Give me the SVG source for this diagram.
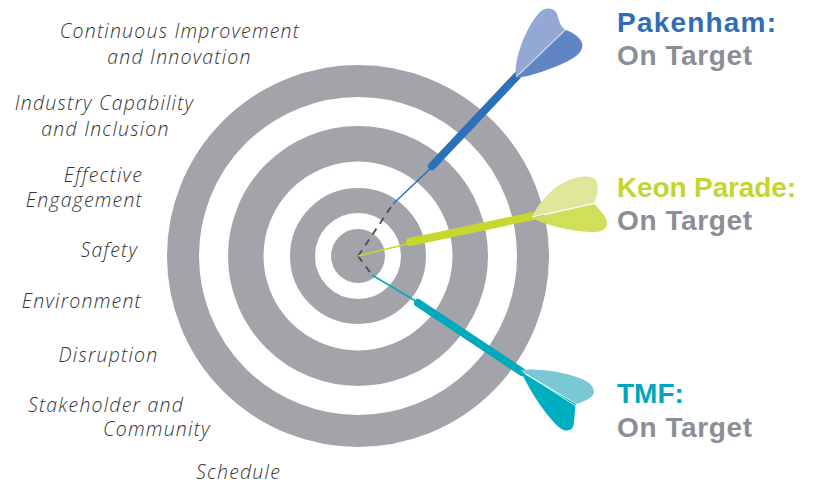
<svg xmlns="http://www.w3.org/2000/svg" width="823" height="485" viewBox="0 0 823 485">
<style>
.ring{fill:none;stroke:#a2a4aa}
.lbl{font-family:"Open Sans",Roboto,"Liberation Sans",sans-serif;font-weight:300;font-style:italic;font-size:19.5px;letter-spacing:1.2px;fill:#333335}
.ttl{font-family:"Liberation Sans",Arial,sans-serif;font-weight:bold;font-size:28px}
.ok{fill:#8b8e95}
.dash{stroke:#4a4d55;stroke-width:1.8;stroke-dasharray:7 6;fill:none}
.vane{stroke:#ffffff;stroke-width:1;opacity:0.8}
</style>
<rect width="823" height="485" fill="#ffffff"/>
<g id="target">
<circle class="ring" cx="358" cy="256" r="175" stroke-width="32"/>
<circle class="ring" cx="358" cy="256" r="112.25" stroke-width="35.5"/>
<circle class="ring" cx="358" cy="256" r="55.5" stroke-width="25"/>
<circle cx="358" cy="256" r="27" fill="#a2a4aa"/>
</g>
<g id="labels">
<text class="lbl" x="180" y="38" text-anchor="middle">Continuous Improvement</text>
<text class="lbl" x="179.5" y="64" text-anchor="middle">and Innovation</text>
<text class="lbl" x="104.5" y="110" text-anchor="middle">Industry Capability</text>
<text class="lbl" x="105.5" y="136" text-anchor="middle">and Inclusion</text>
<text class="lbl" x="143" y="182" text-anchor="end">Effective</text>
<text class="lbl" x="143" y="207" text-anchor="end">Engagement</text>
<text class="lbl" x="138" y="257" text-anchor="end">Safety</text>
<text class="lbl" x="142" y="308" text-anchor="end">Environment</text>
<text class="lbl" x="108.5" y="362" text-anchor="middle">Disruption</text>
<text class="lbl" x="28" y="412">Stakeholder and</text>
<text class="lbl" x="103" y="436">Community</text>
<text class="lbl" x="238.5" y="479" text-anchor="middle">Schedule</text>
</g>
<g id="connectors">
<path class="dash" d="M358,256 L393,204"/>
<path class="dash" d="M358,256 L372,275"/>
<path d="M393,204 L432,167" stroke="#2b70b9" stroke-width="1.5"/>
<path d="M358,256 L411,243" stroke="#c5d82e" stroke-width="1.5"/>
<path d="M372,275 L419,303" stroke="#00a9bd" stroke-width="1.5"/>
</g>
<g id="dart-pakenham">
<path d="M432,166 L517,76" stroke="#2b70b9" stroke-width="8" stroke-linecap="round"/>
<path d="M516,78 C513,58 528,24 540,12 C546,6 555,8 557,14 C559,20 560,27 566,30 Z" fill="#94a8d6"/>
<path d="M516,78 L566,30 C572,32 580,37 582,43 C584,50 578,56 568,61 C552,69 532,76 516,78 Z" fill="#5f85c5"/>
<path class="vane" d="M517,76 L567,28"/>
</g>
<g id="dart-keon">
<path d="M410,242 L533,216" stroke="#c5d82e" stroke-width="8" stroke-linecap="round"/>
<path d="M532,217 C540,200 556,184 572,179 C584,175 595,176 597,182 C599,189 597,197 594,203 Z" fill="#dfe89a"/>
<path d="M532,218 L594,204 C600,210 607,217 607,223 C607,230 600,233 590,232 C572,231 550,227 532,218 Z" fill="#cfdf5a"/>
<path class="vane" d="M532,217 L601,202"/>
</g>
<g id="dart-tmf">
<path d="M418,303 L522,372" stroke="#00a9bd" stroke-width="8" stroke-linecap="round"/>
<path d="M520,370 C540,368 565,372 582,379 C592,383 596,390 593,395 C590,399 584,401 577,404 Z" fill="#7ac8d4"/>
<path d="M521,372 L576,404 C574,412 575,422 573,427 C571,431 565,432 560,428 C548,418 532,395 521,372 Z" fill="#00aec2"/>
<path class="vane" d="M523,372 L582,410"/>
</g>
<g id="status">
<text class="ttl" x="617" y="32" fill="#2f6db5" textLength="159" lengthAdjust="spacing">Pakenham:</text>
<text class="ttl ok" x="617" y="65" textLength="135" lengthAdjust="spacing">On Target</text>
<text class="ttl" x="617" y="197" fill="#c4d52e" textLength="179" lengthAdjust="spacing">Keon Parade:</text>
<text class="ttl ok" x="617" y="230" textLength="135" lengthAdjust="spacing">On Target</text>
<text class="ttl" x="617" y="403" fill="#00a7bb">TMF:</text>
<text class="ttl ok" x="617" y="437" textLength="135" lengthAdjust="spacing">On Target</text>
</g>
</svg>
